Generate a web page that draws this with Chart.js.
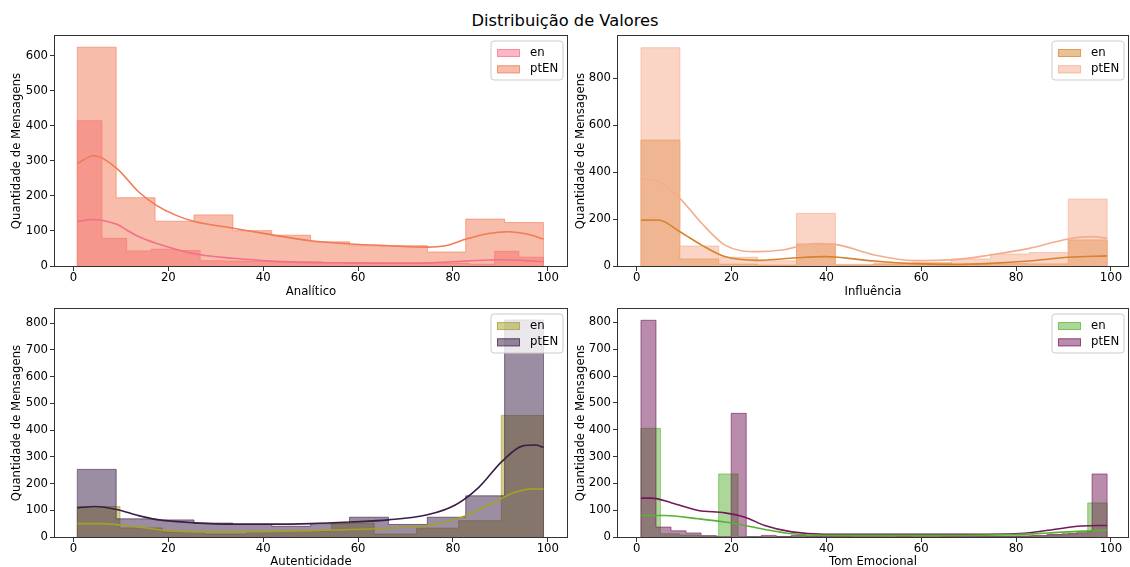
<!DOCTYPE html>
<html>
<head>
<meta charset="utf-8">
<script src="https://cdn.jsdelivr.net/npm/chart.js@4.4.0/dist/chart.umd.min.js"></script>
<style>
  html, body { margin: 0; padding: 0; background: #fff; width: 1130px; height: 567px; overflow: hidden; }
  #title { position: absolute; left: 0; top: 11px; width: 1130px; line-height: 20px; text-align: center;
           font-family: "DejaVu Sans"; font-size: 16.3px; color: #000; }
  canvas { position: absolute; }
</style>
</head>
<body>
<div id="title">Distribuição de Valores</div>
<canvas id="c1"></canvas>
<canvas id="c2"></canvas>
<canvas id="c3"></canvas>
<canvas id="c4"></canvas>
<script>
// labels
const seriesNames = ["en", "ptEN"];
const xTitles = ["Analítico", "Influência", "Autenticidade", "Tom Emocional"];
const yTitle = "Quantidade de Mensagens";
const xTicks = [0, 20, 40, 60, 80, 100];
const yTicksTL = [0, 100, 200, 300, 400, 500, 600];
const yTicksTR = [0, 200, 400, 600, 800];
const yTicksB = [0, 100, 200, 300, 400, 500, 600, 700, 800];

// Analítico
const anaPtEdges = [0.8, 9.0, 17.2, 25.4, 33.6, 41.8, 50.0, 58.2, 66.4, 74.6, 82.7, 90.9, 99.1];
const anaPtCounts = [625, 195, 128, 146, 101, 88, 69, 58, 58, 40, 134, 124];
const anaEnEdges = [0.8, 6.0, 11.2, 16.4, 21.5, 26.7, 31.9, 37.0, 42.2, 47.4, 52.6, 57.7, 62.9, 68.1, 73.2, 78.4, 83.6, 88.8, 93.9, 99.1];
const anaEnCounts = [415, 79, 43, 48, 44, 15, 14, 13, 11, 12, 10, 9, 9, 8, 8, 7, 5, 42, 25];
const anaPtKdeX = [0.85, 4.2, 9.1, 13.7, 17.4, 21.4, 25.5, 33.7, 41.9, 50.0, 58.3, 66.4, 74.6, 78.4, 82.8, 87.5, 91.7, 96.0, 99.1];
const anaPtKdeY = [293, 315, 279, 212, 174, 146, 127, 108, 89, 72, 63, 58, 54, 58, 77, 93, 98, 90, 77];
const anaEnKdeX = [0.85, 3.9, 9.1, 11.2, 13.7, 17.4, 25.5, 33.7, 41.9, 50.0, 58.3, 66.4, 74.6, 82.8, 89.6, 94.5, 99.1];
const anaEnKdeY = [127, 133, 119, 103, 84, 65, 35, 22, 14, 10, 9, 8, 9, 14, 18, 16, 12];

// Influência
const infEdges = [0.9, 9.1, 17.3, 25.5, 33.7, 41.9, 50.0, 58.2, 66.4, 74.6, 82.8, 91.0, 99.2];
const infPtCounts = [929, 85, 37, 22, 224, 7, 13, 14, 30, 51, 57, 285];
const infEnCounts = [536, 30, 8, 4, 94, 4, 8, 13, 7, 10, 9, 111];
const infPtKdeX = [0.9, 4.6, 9.1, 13.7, 18.6, 25.5, 30.6, 37.6, 41.9, 50.1, 58.3, 66.4, 74.6, 82.8, 91.0, 96.0, 99.2];
const infPtKdeY = [370, 359, 288, 182, 89, 61, 68, 96, 92, 47, 23, 26, 47, 75, 115, 125, 118];
const infEnKdeX = [0.9, 4.6, 9.1, 13.7, 18.6, 25.5, 33.7, 39.8, 50.1, 58.3, 66.4, 74.6, 82.8, 91.0, 99.2];
const infEnKdeY = [195, 196, 146, 89, 40, 24, 35, 40, 21, 10, 7, 11, 21, 37, 43];

// Autenticidade
const autPtEdges = [0.8, 9.0, 17.2, 25.4, 33.6, 41.8, 50.0, 58.2, 66.4, 74.6, 82.7, 90.9, 99.1];
const autPtCounts = [253, 68, 64, 52, 47, 40, 50, 74, 47, 74, 154, 812];
const autEnEdges = [0.8, 9.8, 18.7, 27.6, 36.6, 45.5, 54.4, 63.4, 72.3, 81.2, 90.2, 99.1];
const autEnCounts = [114, 34, 19, 11, 20, 21, 52, 11, 33, 61, 455];
const autPtKdeX = [0.85, 4.6, 9.1, 13.7, 17.4, 25.5, 33.7, 41.9, 50.0, 58.3, 66.4, 74.6, 80.5, 85.4, 90.4, 94.6, 97.4, 99.1];
const autPtKdeY = [109, 114, 103, 80, 66, 53, 48, 48, 50, 56, 64, 83, 120, 185, 284, 340, 344, 335];
const autEnKdeX = [0.85, 5.9, 13.7, 20.7, 27.7, 38.3, 48.8, 58.3, 66.4, 74.6, 81.9, 87.5, 93.1, 96.6, 99.1];
const autEnKdeY = [50, 50, 37, 23, 19, 20, 23, 28, 33, 43, 74, 120, 167, 180, 179];

// Tom Emocional
const tomPtEdges = [0.90, 4.07, 7.24, 10.41, 13.58, 16.76, 19.93, 23.10, 26.27, 29.44, 32.61, 35.78, 38.95, 42.12, 45.29, 48.47,
  51.64, 54.81, 57.98, 61.15, 64.32, 67.49, 70.66, 73.83, 77.00, 80.18, 83.35, 86.52, 89.69, 92.86, 96.03, 99.20];
const tomPtCounts = [808, 37, 23, 15, 5, 1, 461, 1, 6, 2, 6, 3, 4, 4, 5, 5, 9, 4, 6, 9, 4, 3, 3, 3, 3, 4, 5, 9, 12, 20, 235];
const tomEnEdges = [0.90, 5.00, 9.09, 13.19, 17.28, 21.38, 25.48, 29.57, 33.67, 37.76, 41.86, 45.96, 50.05,
  54.15, 58.24, 62.34, 66.44, 70.53, 74.63, 78.72, 82.82, 86.92, 91.01, 95.11, 99.20];
const tomEnCounts = [405, 12, 7, 4, 235, 2, 1, 2, 3, 2, 3, 3, 3, 3, 3, 3, 3, 3, 2, 3, 5, 8, 14, 127];
const tomPtKdeX = [0.9, 3.2, 7.4, 13.0, 18.6, 22.8, 27.0, 32.7, 39.7, 51.6, 65.7, 79.7, 86.8, 93.8, 99.2];
const tomPtKdeY = [145, 145, 127, 99, 90, 74, 43, 19, 10, 10, 10, 12, 25, 41, 43];
const tomEnKdeX = [0.9, 5.9, 13.0, 18.6, 22.8, 27.0, 32.7, 39.7, 65.7, 79.7, 86.8, 93.8, 99.2];
const tomEnKdeY = [80, 80, 68, 56, 43, 28, 12, 6, 6, 9, 15, 22, 25];

const FONT = "DejaVu Sans";
Chart.defaults.font.family = FONT;
Chart.defaults.font.size = 11.7;
Chart.defaults.color = "#000";

function rgba(c, a) { return "rgba(" + c[0] + "," + c[1] + "," + c[2] + "," + a + ")"; }

function stepPoints(edges, counts) {
  const pts = [{x: edges[0], y: 0}];
  counts.forEach((c, i) => pts.push({x: edges[i], y: c}));
  pts.push({x: edges[edges.length - 1], y: 0});
  return pts;
}
function linePoints(xs, ys) {
  return xs.map((x, i) => ({x: x, y: ys[i]}));
}

// axes box drawn like matplotlib spines
const frame = {
  id: "frame",
  afterDraw(chart) {
    const a = chart.chartArea, ctx = chart.ctx;
    ctx.save();
    ctx.strokeStyle = "#333";
    ctx.lineWidth = 1;
    ctx.strokeRect(a.left - 0.5, a.top - 0.5, a.right - a.left + 1, a.bottom - a.top + 1);
    ctx.restore();
  }
};

// legend inside the axes, upper right
const boxLegend = {
  id: "boxLegend",
  afterDatasetsDraw(chart, args, opts) {
    const a = chart.chartArea, ctx = chart.ctx;
    const w = 72, h = 39, r = 3;
    const x0 = a.right - 4 - w, y0 = a.top + 5;
    ctx.save();
    ctx.beginPath();
    ctx.moveTo(x0 + r, y0);
    ctx.arcTo(x0 + w, y0, x0 + w, y0 + h, r);
    ctx.arcTo(x0 + w, y0 + h, x0, y0 + h, r);
    ctx.arcTo(x0, y0 + h, x0, y0, r);
    ctx.arcTo(x0, y0, x0 + w, y0, r);
    ctx.closePath();
    ctx.fillStyle = "rgba(255,255,255,0.8)";
    ctx.fill();
    ctx.strokeStyle = "#cccccc";
    ctx.lineWidth = 1;
    ctx.stroke();
    opts.items.forEach((it, i) => {
      const cy = y0 + 12 + i * 16.3;
      ctx.fillStyle = it.fill;
      ctx.fillRect(x0 + 6, cy - 4, 23, 8);
      ctx.strokeStyle = it.edge;
      ctx.strokeRect(x0 + 6.5, cy - 3.5, 22, 7);
      ctx.fillStyle = "#000";
      ctx.font = "11.7px '" + FONT + "'";
      ctx.textBaseline = "middle";
      ctx.textAlign = "left";
      ctx.fillText(it.label, x0 + 39, cy);
    });
    ctx.restore();
  }
};

function panel(id, pos, area, xTitle, xMin, xMax, yMax, yTicks, enHist, ptHist, enKde, ptKde, enCol, ptCol) {
  const cv = document.getElementById(id);
  cv.width = pos.w; cv.height = pos.h;
  cv.style.left = pos.x + "px"; cv.style.top = pos.y + "px";
  const padL = area.axisLeft - pos.x;
  const yAxisW = area.left - area.axisLeft;
  const padT = area.top - pos.y;
  const padR = pos.x + pos.w - area.right;
  const padB = 1;
  const xAxisH = pos.y + pos.h - padB - area.bottom;

  const histDs = (pts, col, order) => ({
    type: "line", data: pts, stepped: "before", order: order,
    fill: "origin", backgroundColor: rgba(col, 0.5),
    borderColor: rgba(col, 0.6), borderWidth: 1,
    pointRadius: 0, tension: 0
  });
  const kdeDs = (pts, col, order) => ({
    type: "line", data: pts, order: order, fill: false,
    borderColor: rgba(col, 1), borderWidth: 1.6,
    pointRadius: 0, cubicInterpolationMode: "monotone"
  });

  // lower order is drawn on top: ptEN bars cover en bars, lines above both
  new Chart(cv, {
    type: "line",
    data: {
      datasets: [
        kdeDs(enKde, enCol, 0),
        kdeDs(ptKde, ptCol, 1),
        histDs(enHist, enCol, 3),
        histDs(ptHist, ptCol, 2)
      ]
    },
    plugins: [frame, boxLegend],
    options: {
      responsive: false,
      devicePixelRatio: 1,
      animation: false,
      events: [],
      layout: { padding: { left: padL, top: padT, right: padR, bottom: padB } },
      plugins: {
        legend: { display: false },
        tooltip: { enabled: false },
        boxLegend: {
          items: [
            { label: seriesNames[0], fill: rgba(enCol, 0.5), edge: rgba(enCol, 0.6) },
            { label: seriesNames[1], fill: rgba(ptCol, 0.5), edge: rgba(ptCol, 0.6) }
          ]
        }
      },
      scales: {
        x: {
          type: "linear", min: xMin, max: xMax,
          afterBuildTicks: s => { s.ticks = xTicks.map(v => ({value: v})); },
          afterFit: s => { s.height = xAxisH; },
          grid: { drawOnChartArea: false, drawTicks: true, tickLength: 5, color: "#333" },
          border: { display: false },
          ticks: { padding: 0, color: "#000", maxRotation: 0, autoSkip: false },
          title: { display: true, text: xTitle, color: "#000", padding: { top: 0, bottom: 0 } }
        },
        y: {
          type: "linear", min: 0, max: yMax,
          afterBuildTicks: s => { s.ticks = yTicks.map(v => ({value: v})); },
          afterFit: s => { s.width = yAxisW; },
          grid: { drawOnChartArea: false, drawTicks: true, tickLength: 5, color: "#333" },
          border: { display: false },
          ticks: { padding: 2, color: "#000", autoSkip: false },
          title: { display: true, text: yTitle, color: "#000", padding: { top: 0, bottom: 0 } }
        }
      }
    }
  });
}

panel("c1", {x: 0, y: 0, w: 575, h: 300}, {axisLeft: 10, left: 55, top: 36, right: 567, bottom: 266},
  xTitles[0], -3.9, 104.05, 657, yTicksTL,
  stepPoints(anaEnEdges, anaEnCounts), stepPoints(anaPtEdges, anaPtCounts),
  linePoints(anaEnKdeX, anaEnKdeY), linePoints(anaPtKdeX, anaPtKdeY),
  [245, 110, 138], [242, 122, 85]);

panel("c2", {x: 570, y: 0, w: 560, h: 300}, {axisLeft: 574, left: 618, top: 36, right: 1128, bottom: 266},
  xTitles[1], -3.94, 103.6, 979, yTicksTR,
  stepPoints(infEdges, infEnCounts), stepPoints(infEdges, infPtCounts),
  linePoints(infEnKdeX, infEnKdeY), linePoints(infPtKdeX, infPtKdeY),
  [214, 131, 47], [245, 172, 140]);

panel("c3", {x: 0, y: 300, w: 575, h: 270}, {axisLeft: 10, left: 55, top: 306, right: 567, bottom: 537},
  xTitles[2], -3.9, 104.05, 853, yTicksB,
  stepPoints(autEnEdges, autEnCounts), stepPoints(autPtEdges, autPtCounts),
  linePoints(autEnKdeX, autEnKdeY), linePoints(autPtKdeX, autPtKdeY),
  [165, 160, 40], [58, 30, 70]);

panel("c4", {x: 570, y: 300, w: 560, h: 270}, {axisLeft: 574, left: 618, top: 306, right: 1128, bottom: 537},
  xTitles[3], -3.94, 103.6, 850, yTicksB,
  stepPoints(tomEnEdges, tomEnCounts), stepPoints(tomPtEdges, tomPtCounts),
  linePoints(tomEnKdeX, tomEnKdeY), linePoints(tomPtKdeX, tomPtKdeY),
  [88, 178, 50], [115, 25, 90]);
</script>
</body>
</html>
